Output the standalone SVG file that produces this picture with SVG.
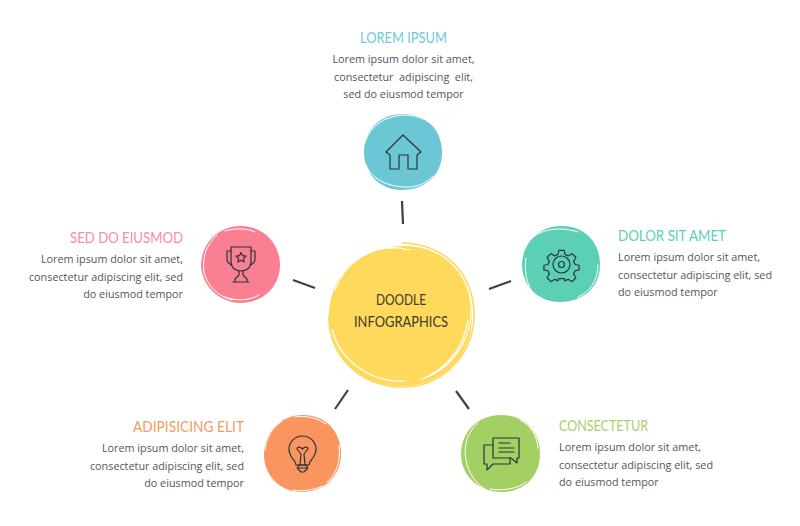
<svg xmlns="http://www.w3.org/2000/svg" width="800" height="526" viewBox="0 0 800 526">
<style>
.h{font-family:"Lato","Noto Sans",sans-serif;font-size:16px;font-weight:400}
.b{font-family:"Open Sans","Noto Sans",sans-serif;font-size:10.8px;fill:#55555a;white-space:pre}
.m{text-anchor:middle}.e{text-anchor:end}
.w{fill:none;stroke:#fff;stroke-linecap:round}
.i{fill:none;stroke:#2b3238;stroke-width:1.2;stroke-linejoin:round;stroke-linecap:round}
.c{stroke:#3d4046;stroke-width:2.2;fill:none;stroke-linecap:butt}
.t{font-family:"Lato","Noto Sans",sans-serif;font-size:16px;fill:#3c3a2c;text-anchor:middle}
</style>
<rect width="800" height="526" fill="#fff"/>
<g id="connectors">
<line class="c" x1="402" y1="201" x2="403" y2="224"/>
<line class="c" x1="293" y1="280" x2="315" y2="288"/>
<line class="c" x1="511" y1="281" x2="489" y2="289"/>
<line class="c" x1="348" y1="390" x2="335" y2="409"/>
<line class="c" x1="456" y1="391" x2="469" y2="409"/>
</g>
<g id="center">
<path d="M402 246C443 245 471 274 472 315C473 356 442 386 401 386C359 386 329 357 329 316C329 274 361 247 402 246Z" fill="#ffd95c"/>
<path class="w" stroke-width="1.2" d="M395 248C370 247 345 262 335 290M470 296C476 330 458 365 425 378M468 320C463 350 445 370 420 380M332 330C340 360 370 383 405 381M340 265C352 250 380 243 410 250"/>
<path d="M402 243C446 244 475 275 474 318C472 358 440 388 400 387C360 386 328 356 329 315" fill="none" stroke="#ffd95c" stroke-width="1.6"/>
<text class="t" x="401" y="305" textLength="50" lengthAdjust="spacingAndGlyphs">DOODLE</text>
<text class="t" x="401" y="327" textLength="94" lengthAdjust="spacingAndGlyphs">INFOGRAPHICS</text>
</g>
<g id="node-top">
<path d="M403 114C428 114 442 131 442 153C442 175 425 190 402 190C380 190 364 174 364 152C364 130 380 114 403 114Z" fill="#6cc7d5"/>
<path class="w" stroke-width="1" d="M365 143C369 127 384 116 404 115C420 115 433 122 439 133M366 165C372 180 390 188 410 187C420 186 428 182 433 176"/>
<path class="i" d="M403 135L386 152L390 155V169H399V155H408V169H417V155L421 152Z"/>
<text class="h m" x="403.500" y="43" fill="#6fc8d6" textLength="87" lengthAdjust="spacingAndGlyphs">LOREM IPSUM</text>
<text class="b m" x="403.500" y="63">Lorem ipsum dolor sit amet,</text>
<text class="b m" x="403.500" y="81">consectetur  adipiscing  elit,</text>
<text class="b m" x="403.500" y="98">sed do eiusmod tempor</text>
</g>
<g id="node-right">
<path d="M563 226C586 227 600 243 600 265C600 288 582 302 560 302C538 302 522 286 522 264C523 242 540 225 563 226Z" fill="#5bd0b4"/>
<path class="w" stroke-width="1" d="M530 240C540 229 560 226 578 232M598 265C598 280 590 292 578 297M531 290C527 282 524 272 526 258"/>
<g class="i">
<path vector-effect="non-scaling-stroke" transform="translate(561.500 264.500) scale(.78) translate(-561.500 -264)" d="M558 246H565L566 251L570 253L575 250L580 255L577 260L579 264L584 265V271L579 272L577 276L580 281L575 286L570 283L566 285L565 282H558L557 285L553 283L548 286L543 281L546 276L544 272L539 271V265L544 264L546 260L543 255L548 250L553 253L557 251Z"/>
<circle cx="561.500" cy="264.500" r="8.500"/><circle cx="561.500" cy="264.500" r="3"/>
</g>
<text class="h" x="618" y="241" fill="#5dcfb3" textLength="108" lengthAdjust="spacingAndGlyphs">DOLOR SIT AMET</text>
<text class="b" x="618" y="261">Lorem ipsum dolor sit amet,</text>
<text class="b" x="618" y="279">consectetur adipiscing elit, sed</text>
<text class="b" x="618" y="296">do eiusmod tempor</text>
</g>
<g id="node-left">
<path d="M242 226C264 227 280 243 280 266C279 288 262 303 240 303C218 302 201 285 201 264C202 242 220 225 242 226Z" fill="#fb7f93"/>
<path class="w" stroke-width="1" d="M217 235C206 245 202 258 204 272C207 286 218 296 232 300M225 297C235 301 250 301 259 295M225 231C235 228 247 228 255 232"/>
<g class="i">
<path d="M231 247H251V262C251 268 246 271 241 271C236 271 231 268 231 262Z"/>
<path d="M231 251H227V259C227 262 229 264 232 265M251 251H255V259C255 262 253 264 250 265"/>
<path d="M239 271V275L235 279V282H247V279L243 275V271M233 282H249"/>
<path d="M241 252.500L242.500 255.700L246 256.100L243.400 258.500L244.100 262L241 260.200L237.900 262L238.600 258.500L236 256.100L239.500 255.700Z"/>
</g>
<text class="h e" x="183" y="243" fill="#f78da0" textLength="113" lengthAdjust="spacingAndGlyphs">SED DO EIUSMOD</text>
<text class="b e" x="183" y="263">Lorem ipsum dolor sit amet,</text>
<text class="b e" x="183" y="281">consectetur adipiscing elit, sed</text>
<text class="b e" x="183" y="298">do eiusmod tempor</text>
</g>
<g id="node-bottom-left">
<path d="M303 415C326 415 341 432 341 454C341 476 324 492 302 492C280 492 264 476 264 454C264 432 281 415 303 415Z" fill="#fa9560"/>
<path class="w" stroke-width="1" d="M265 450C266 438 272 428 281 422M295 417C305 415 318 418 326 424M339 445C341 462 336 475 327 482M293 490C303 492 315 490 322 486"/>
<g class="i">
<path d="M296 465C296 460 289 458 289 449C289 442 295 436 302.500 436C310 436 316 442 316 449C316 458 309 460 309 465Z"/>
<path d="M297 468H308M298 465H307V469L304 472H301L298 469Z"/>
<path d="M300 465L301 454L297 449C297 447 300 446 302.500 449C305 446 308 447 308 449L304 454L305 465"/>
</g>
<text class="h e" x="244" y="432" fill="#f49a64" textLength="111" lengthAdjust="spacingAndGlyphs">ADIPISICING ELIT</text>
<text class="b e" x="244" y="452">Lorem ipsum dolor sit amet,</text>
<text class="b e" x="244" y="470">consectetur adipiscing elit, sed</text>
<text class="b e" x="244" y="487">do eiusmod tempor</text>
</g>
<g id="node-bottom-right">
<path d="M501 415C525 415 540 432 540 454C540 476 524 492 502 492C480 492 461 477 461 454C461 432 478 415 501 415Z" fill="#a3d063"/>
<path class="w" stroke-width="1" d="M478 423C468 432 463 444 466 460C468 473 476 484 485 489M490 489C503 491 518 489 526 482M520 420C530 425 537 435 538 448"/>
<g class="i">
<path d="M493 438H519V458H517V463L511 458H493Z"/>
<path d="M493 445H484V464H487V470L493 464H510V458"/>
<path d="M499 443H510M499 448H514M499 452H514"/>
</g>
<text class="h" x="559" y="431" fill="#a8cf68" textLength="89" lengthAdjust="spacingAndGlyphs">CONSECTETUR</text>
<text class="b" x="559" y="451">Lorem ipsum dolor sit amet,</text>
<text class="b" x="559" y="469">consectetur adipiscing elit, sed</text>
<text class="b" x="559" y="486">do eiusmod tempor</text>
</g>
</svg>
